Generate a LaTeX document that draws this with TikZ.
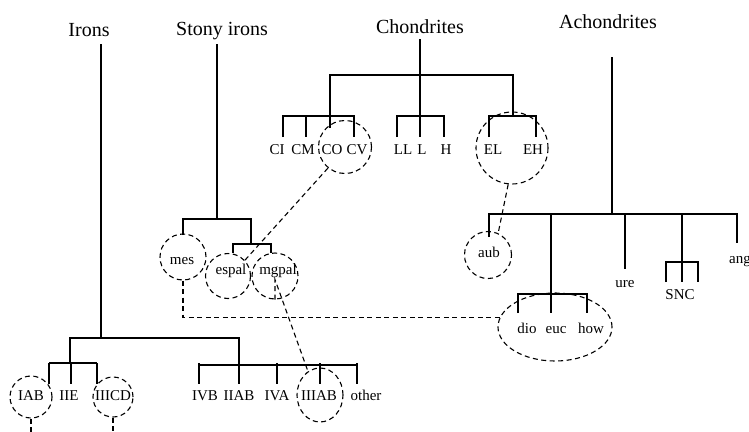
\documentclass[tikz,border=0pt]{standalone}
\usepackage{fontspec}
\setmainfont{Liberation Serif}
\usetikzlibrary{shapes.geometric}

\tikzset{
  branch/.style={line width=1.3pt},
  link/.style={line width=1.1pt, dash pattern=on 5pt off 3.5pt},
  group/.style={circle, draw, link, inner sep=0pt},
  title/.style={font=\fontsize{20}{22}\selectfont, anchor=base, inner sep=0pt},
  leaf/.style={font=\fontsize{15}{17}\selectfont, anchor=base, inner sep=0pt},
}

\begin{document}
\begin{tikzpicture}[x=1pt, y=-1pt]
  \useasboundingbox (0,0) rectangle (749,431);

  % Class titles
  \node[title] (irons) at (89,36) {Irons};
  \node[title] (stony) at (222,35) {Stony irons};
  \node[title] (chon) at (420,33) {Chondrites};
  \node[title] (achon) at (608,28) {Achondrites};

  % Irons
  \node[leaf] (iab) at (31,400) {IAB};
  \node[leaf] (iie) at (69,400) {IIE};
  \node[leaf] (iiicd) at (113,400) {IIICD};
  \node[leaf] (ivb) at (205,400) {IVB};
  \node[leaf] (iiab) at (239,400) {IIAB};
  \node[leaf] (iva) at (277,400) {IVA};
  \node[leaf] (iiiab) at (319,400) {IIIAB};
  \node[leaf] (other) at (366,400) {other};
  \draw[branch] (101,44) -- (101,338);
  \draw[branch] (70,363) -- (70,338) -- (239,338) -- (239,365);
  \draw[branch] (49,363) -- (97,363);
  \draw[branch] (199,365) -- (357,365);
  \foreach \x in {49,71,97,199,239,277,320,357}
    \draw[branch] (\x,363) -- (\x,384);

  % Stony irons
  \node[leaf] (mes) at (182,264) {mes};
  \node[leaf] (espal) at (231,274) {espal};
  \node[leaf] (mgpal) at (278,274) {mgpal};
  \draw[branch] (217,44) -- (217,219);
  \draw[branch] (183,235) -- (183,219) -- (251,219) -- (251,244);
  \draw[branch] (233,253) -- (233,244) -- (271,244) -- (271,253);

  % Chondrites
  \node[leaf] (ci) at (277,154) {CI};
  \node[leaf] (cm) at (303,154) {CM};
  \node[leaf] (co) at (332,154) {CO};
  \node[leaf] (cv) at (357,154) {CV};
  \node[leaf] (ll) at (403,154) {LL};
  \node[leaf] (l) at (422,154) {L};
  \node[leaf] (h) at (446,154) {H};
  \node[leaf] (el) at (493,154) {EL};
  \node[leaf] (eh) at (533,154) {EH};
  \draw[branch] (420,39) -- (420,137);
  \draw[branch] (330,128) -- (330,75) -- (513,75) -- (513,116);
  \draw[branch] (283,137) -- (283,116) -- (354,116) -- (354,137);
  \draw[branch] (306,116) -- (306,137);
  \draw[branch] (397,137) -- (397,116) -- (444,116) -- (444,137);
  \draw[branch] (489,137) -- (489,116) -- (536,116) -- (536,137);

  % Achondrites
  \node[leaf] (aub) at (489,257) {aub};
  \node[leaf] (dio) at (527,333) {dio};
  \node[leaf] (euc) at (556,333) {euc};
  \node[leaf] (how) at (591,333) {how};
  \node[leaf] (ure) at (625,287) {ure};
  \node[leaf] (snc) at (680,299) {SNC};
  \node[leaf, anchor=base west] (ang) at (729,263) {ang};
  \draw[branch] (612,57) -- (612,214);
  \draw[branch] (489,237) -- (489,214) -- (737,214) -- (737,243);
  \draw[branch] (551,214) -- (551,313);
  \draw[branch] (625,214) -- (625,269);
  \draw[branch] (682,214) -- (682,282);
  \draw[branch] (518,313) -- (518,294) -- (587,294) -- (587,313);
  \draw[branch] (666,282) -- (666,262) -- (698,262) -- (698,282);

  % Dashed groups
  \node[group, minimum size=53pt] (cocv) at (345,147) {};
  \node[group, minimum size=72pt] (eleh) at (512,148) {};
  \node[group, minimum size=46pt] (gmes) at (183,257) {};
  \node[group, minimum size=45pt] (gespal) at (228,276) {};
  \node[group, minimum size=46pt] (gmgpal) at (275,276) {};
  \node[group, minimum size=47pt] (gaub) at (488,255) {};
  \node[group, ellipse, minimum width=114pt, minimum height=68pt] (hed) at (555,327) {};
  \node[group, minimum size=42pt] (giab) at (31,397) {};
  \node[group, minimum size=40pt] (giiicd) at (113,397) {};
  \node[group, ellipse, minimum width=46pt, minimum height=54pt] (giiiab) at (320,395) {};
  \coordinate (bottom) at (0,436);

  % Dashed links
  \draw[link] (cocv.231) -- (gespal.43);
  \draw[link] (eleh.264) -- (gaub.65);
  \draw[link] (gmes.south) |- (hed.170);
  \draw[link] (gmgpal.south) -- ++(0,-20) -- (giiiab.117);
  \draw[link] (giab.south) -- (giab.south |- bottom);
  \draw[link] (giiicd.south) -- (giiicd.south |- bottom);
\end{tikzpicture}
\end{document}
